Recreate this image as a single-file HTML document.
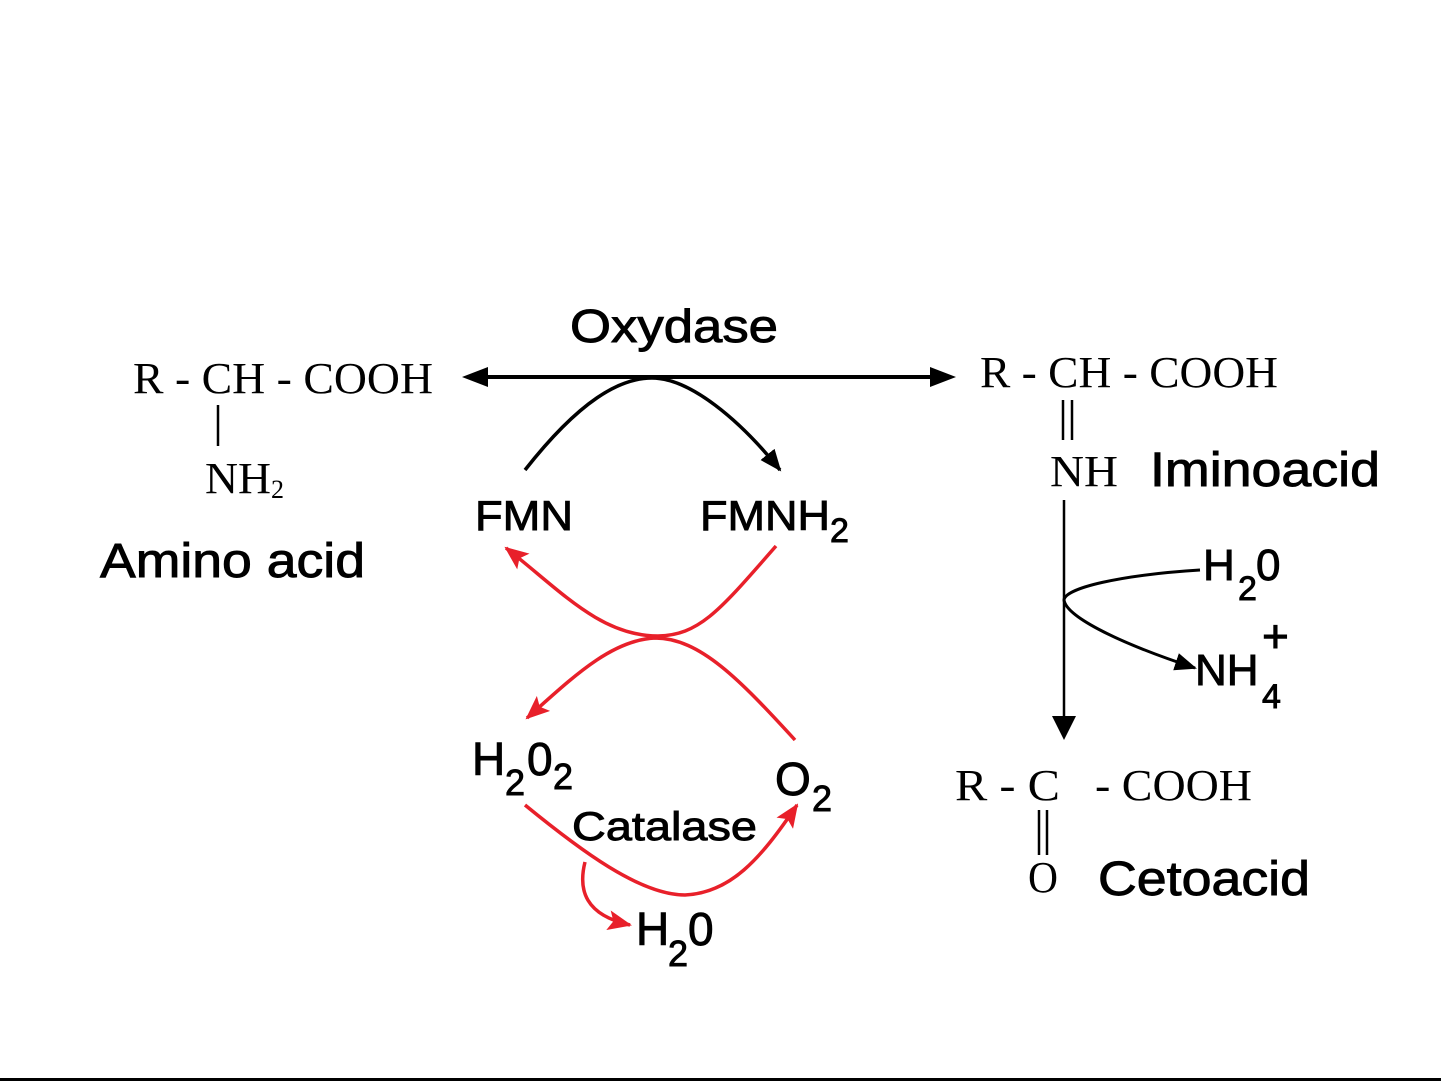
<!DOCTYPE html>
<html><head><meta charset="utf-8"><style>html,body{margin:0;padding:0;background:#fff;}svg{display:block}</style></head>
<body>
<svg width="1441" height="1081" viewBox="0 0 1441 1081" xmlns="http://www.w3.org/2000/svg">
<defs>
<marker id="abig" markerWidth="22" markerHeight="18" refX="20" refY="9" orient="auto" markerUnits="userSpaceOnUse" viewBox="0 0 22 18"><path d="M0,0 L22,9 L0,18 z" fill="#000"/></marker>
<marker id="ar" markerWidth="24" markerHeight="20" refX="22" refY="10" orient="auto" markerUnits="userSpaceOnUse" viewBox="0 0 24 20"><path d="M0,0 L24,10 L0,20 L5,10 z" fill="#e8202a"/></marker>
</defs>
<rect width="1441" height="1081" fill="#fff"/>
<g font-family="'Liberation Serif',serif" fill="#000" font-size="44">
<text x="133" y="393" textLength="300" lengthAdjust="spacingAndGlyphs">R - CH - COOH</text>
<text x="205" y="493" textLength="66" lengthAdjust="spacingAndGlyphs">NH</text>
<text x="271" y="498" font-size="26">2</text>
<text x="980" y="387" textLength="298" lengthAdjust="spacingAndGlyphs">R - CH - COOH</text>
<text x="1050" y="486" textLength="68" lengthAdjust="spacingAndGlyphs">NH</text>
<text x="955" y="800" textLength="105" lengthAdjust="spacingAndGlyphs">R - C</text>
<text x="1095" y="800" textLength="157" lengthAdjust="spacingAndGlyphs">- COOH</text>
<text x="1028" y="892" textLength="30" lengthAdjust="spacingAndGlyphs">O</text>
</g>
<g stroke="#000" stroke-width="2.5" fill="none">
<line x1="218" y1="405" x2="218" y2="446"/>
<line x1="1063" y1="400" x2="1063" y2="440"/><line x1="1072" y1="400" x2="1072" y2="440"/>
<line x1="1039" y1="810" x2="1039" y2="855"/><line x1="1047" y1="810" x2="1047" y2="855"/>
<line x1="485" y1="377" x2="935" y2="377" stroke-width="4"/>
<path d="M1064 500 L1064 722" stroke-width="2.5"/>
<path d="M525 470 C580 400 620 378 652 378 C690 378 740 420 780 470" stroke-width="3.5" marker-end="url(#abig)"/>
<path d="M1200 570 C1120 575 1065 588 1064 600 C1066 615 1110 640 1195 668" stroke-width="3" marker-end="url(#abig)"/>
</g>
<path d="M462 377 L488 367 L488 387 z" fill="#000"/>
<path d="M956 377 L930 367 L930 387 z" fill="#000"/>
<path d="M1064 740 L1052 716 L1076 716 z" fill="#000"/>
<g stroke="#e8202a" stroke-width="3.5" fill="none">
<path d="M776 546 C720 610 700 635 658 636 C600 636 560 590 506 548" marker-end="url(#ar)"/>
<path d="M795 740 C740 680 700 638 655 638 C610 640 570 680 527 718" marker-end="url(#ar)"/>
<path d="M525 805 C580 850 640 895 685 895 C730 893 760 860 797 805" marker-end="url(#ar)"/>
<path d="M585 862 C578 890 585 915 630 925" marker-end="url(#ar)"/>
</g>
<g font-family="'Liberation Sans',sans-serif" fill="#000" stroke="#000" stroke-width="0.9">
<text x="570" y="342" font-size="46" textLength="208" lengthAdjust="spacingAndGlyphs">Oxydase</text>
<text x="100" y="577" font-size="48" textLength="265" lengthAdjust="spacingAndGlyphs">Amino acid</text>
<text x="475" y="530" font-size="42" textLength="98" lengthAdjust="spacingAndGlyphs">FMN</text>
<text x="700" y="530" font-size="42" textLength="130" lengthAdjust="spacingAndGlyphs">FMNH</text>
<text x="830" y="542" font-size="34">2</text>
<text x="1150" y="486" font-size="48" textLength="230" lengthAdjust="spacingAndGlyphs">Iminoacid</text>
<text x="1203" y="580" font-size="44">H</text><text x="1238" y="600" font-size="34">2</text><text x="1256" y="580" font-size="44">0</text>
<text x="1195" y="685" font-size="44">NH</text><text x="1262" y="708" font-size="34">4</text><text x="1262" y="652" font-size="46">+</text>
<text x="1098" y="895" font-size="48" textLength="212" lengthAdjust="spacingAndGlyphs">Cetoacid</text>
<text x="472" y="775" font-size="46">H</text><text x="505" y="795" font-size="36">2</text><text x="527" y="775" font-size="46">0</text><text x="553" y="789" font-size="36">2</text>
<text x="775" y="795" font-size="46">O</text><text x="812" y="811" font-size="36">2</text>
<text x="572" y="840" font-size="40" textLength="185" lengthAdjust="spacingAndGlyphs">Catalase</text>
<text x="636" y="945" font-size="46">H</text><text x="668" y="966" font-size="36">2</text><text x="688" y="945" font-size="46">0</text>
</g>
<rect x="0" y="1078" width="1441" height="3" fill="#000"/>
</svg>
</body></html>
